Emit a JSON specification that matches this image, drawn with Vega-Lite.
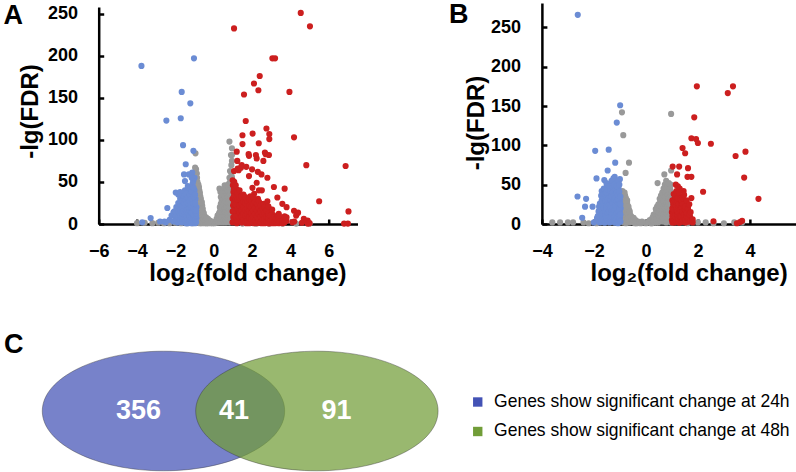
{
"$schema": "https://vega.github.io/schema/vega-lite/v6.json",
"background": "white",
"padding": {"left": 2.7, "top": 1, "right": 0, "bottom": 0},
"config": {
  "view": {"stroke": null},
  "font": "Liberation Sans",
  "axis": {"domainColor": "#000", "domainWidth": 2.5, "tickColor": "#000", "tickWidth": 2.5, "tickSize": -5, "labelFont": "Liberation Sans", "labelFontSize": 18, "labelFontWeight": "bold", "labelColor": "#000", "titleFont": "Liberation Sans", "titleFontSize": 24, "titleFontWeight": "bold", "titleColor": "#000", "grid": false, "labelFlush": false, "labelOverlap": false}
},
"datasets": {
"a": [
{"x":-4.0,"y":1,"g":"n"},{"x":-3.6,"y":1.5,"g":"n"},{"x":-3.2,"y":1,"g":"n"},{"x":-2.9,"y":1.5,"g":"n"},{"x":-2.6,"y":1,"g":"n"},{"x":-2.3,"y":1,"g":"n"},{"x":-2.0,"y":1.5,"g":"n"},{"x":-1.7,"y":1,"g":"n"},{"x":-1.4,"y":1,"g":"n"},{"x":-1.1,"y":1,"g":"n"},{"x":1.5,"y":0.5,"g":"n"},{"x":2.2,"y":0.5,"g":"n"},{"x":2.9,"y":0.5,"g":"n"},{"x":3.6,"y":0.5,"g":"n"},{"x":4.3,"y":0.5,"g":"n"},{"x":5.0,"y":0.5,"g":"n"},
{"x":-0.95,"y":5,"g":"n"},{"x":-0.95,"y":25,"g":"n"},{"x":-0.95,"y":45,"g":"n"},{"x":-0.9,"y":12,"g":"n"},{"x":-0.9,"y":35,"g":"n"},{"x":-0.9,"y":55,"g":"n"},{"x":-0.92,"y":65,"g":"n"},{"x":-0.85,"y":3,"g":"n"},{"x":-0.85,"y":18,"g":"n"},{"x":-0.85,"y":28,"g":"n"},{"x":-0.85,"y":42,"g":"n"},{"x":-0.85,"y":50,"g":"n"},{"x":-0.8,"y":8,"g":"n"},{"x":-0.8,"y":22,"g":"n"},{"x":-0.8,"y":35,"g":"n"},{"x":-0.8,"y":47,"g":"n"},{"x":-0.75,"y":2,"g":"n"},{"x":-0.75,"y":14,"g":"n"},{"x":-0.75,"y":30,"g":"n"},{"x":-0.75,"y":40,"g":"n"},{"x":-0.7,"y":6,"g":"n"},{"x":-0.7,"y":20,"g":"n"},{"x":-0.7,"y":33,"g":"n"},{"x":-0.65,"y":10,"g":"n"},{"x":-0.65,"y":25,"g":"n"},{"x":-0.6,"y":3,"g":"n"},{"x":-0.6,"y":16,"g":"n"},{"x":-0.6,"y":22,"g":"n"},{"x":-0.55,"y":8,"g":"n"},{"x":-0.55,"y":14,"g":"n"},{"x":-0.5,"y":2,"g":"n"},{"x":-0.5,"y":10,"g":"n"},{"x":-0.45,"y":5,"g":"n"},{"x":-0.4,"y":8,"g":"n"},{"x":-0.35,"y":3,"g":"n"},{"x":-0.3,"y":6,"g":"n"},{"x":-0.25,"y":2,"g":"n"},{"x":-0.2,"y":4,"g":"n"},{"x":-0.15,"y":1,"g":"n"},{"x":-0.1,"y":3,"g":"n"},{"x":-0.05,"y":1,"g":"n"},{"x":0,"y":2,"g":"n"},{"x":-0.95,"y":84,"g":"n"},{"x":-0.97,"y":67,"g":"n"},{"x":-0.88,"y":60,"g":"n"},
{"x":-0.97,"y":10,"g":"n"},{"x":-0.97,"y":20,"g":"n"},{"x":-0.97,"y":30,"g":"n"},{"x":-0.97,"y":38,"g":"n"},{"x":-0.97,"y":50,"g":"n"},{"x":-0.97,"y":58,"g":"n"},{"x":-0.92,"y":2,"g":"n"},{"x":-0.92,"y":8,"g":"n"},{"x":-0.92,"y":17,"g":"n"},{"x":-0.92,"y":23,"g":"n"},{"x":-0.92,"y":29,"g":"n"},{"x":-0.92,"y":40,"g":"n"},{"x":-0.92,"y":47,"g":"n"},{"x":-0.87,"y":6,"g":"n"},{"x":-0.87,"y":11,"g":"n"},{"x":-0.87,"y":15,"g":"n"},{"x":-0.87,"y":24,"g":"n"},{"x":-0.87,"y":33,"g":"n"},{"x":-0.87,"y":38,"g":"n"},{"x":-0.87,"y":45,"g":"n"},{"x":-0.87,"y":55,"g":"n"},{"x":-0.82,"y":2,"g":"n"},{"x":-0.82,"y":5,"g":"n"},{"x":-0.82,"y":12,"g":"n"},{"x":-0.82,"y":18,"g":"n"},{"x":-0.82,"y":26,"g":"n"},{"x":-0.82,"y":31,"g":"n"},{"x":-0.82,"y":41,"g":"n"},{"x":-0.77,"y":6,"g":"n"},{"x":-0.77,"y":9,"g":"n"},{"x":-0.77,"y":19,"g":"n"},{"x":-0.77,"y":25,"g":"n"},{"x":-0.77,"y":35,"g":"n"},{"x":-0.77,"y":44,"g":"n"},{"x":-0.72,"y":1,"g":"n"},{"x":-0.72,"y":4,"g":"n"},{"x":-0.72,"y":12,"g":"n"},{"x":-0.72,"y":16,"g":"n"},{"x":-0.72,"y":27,"g":"n"},{"x":-0.72,"y":37,"g":"n"},{"x":-0.67,"y":3,"g":"n"},{"x":-0.67,"y":7,"g":"n"},{"x":-0.67,"y":14,"g":"n"},{"x":-0.67,"y":19,"g":"n"},{"x":-0.67,"y":22,"g":"n"},{"x":-0.67,"y":30,"g":"n"},{"x":-0.62,"y":1,"g":"n"},{"x":-0.62,"y":6,"g":"n"},{"x":-0.62,"y":9,"g":"n"},{"x":-0.62,"y":13,"g":"n"},{"x":-0.62,"y":19,"g":"n"},{"x":-0.62,"y":26,"g":"n"},{"x":-0.57,"y":2,"g":"n"},{"x":-0.57,"y":5,"g":"n"},{"x":-0.57,"y":11,"g":"n"},{"x":-0.57,"y":18,"g":"n"},{"x":-0.52,"y":4,"g":"n"},{"x":-0.52,"y":6,"g":"n"},{"x":-0.52,"y":13,"g":"n"},{"x":-0.47,"y":1,"g":"n"},{"x":-0.47,"y":3,"g":"n"},{"x":-0.47,"y":8,"g":"n"},{"x":-0.42,"y":2,"g":"n"},{"x":-0.42,"y":5,"g":"n"},{"x":-0.37,"y":1,"g":"n"},{"x":-0.37,"y":6,"g":"n"},{"x":-0.3,"y":1,"g":"n"},
{"x":0.05,"y":1,"g":"n"},{"x":0.1,"y":3,"g":"n"},{"x":0.15,"y":6,"g":"n"},{"x":0.2,"y":2,"g":"n"},{"x":0.2,"y":10,"g":"n"},{"x":0.25,"y":5,"g":"n"},{"x":0.3,"y":14,"g":"n"},{"x":0.3,"y":3,"g":"n"},{"x":0.35,"y":8,"g":"n"},{"x":0.35,"y":18,"g":"n"},{"x":0.4,"y":12,"g":"n"},{"x":0.4,"y":24,"g":"n"},{"x":0.45,"y":4,"g":"n"},{"x":0.45,"y":30,"g":"n"},{"x":0.5,"y":16,"g":"n"},{"x":0.5,"y":36,"g":"n"},{"x":0.55,"y":8,"g":"n"},{"x":0.55,"y":26,"g":"n"},{"x":0.55,"y":40,"g":"n"},{"x":0.6,"y":20,"g":"n"},{"x":0.6,"y":44,"g":"n"},{"x":0.65,"y":12,"g":"n"},{"x":0.65,"y":32,"g":"n"},{"x":0.7,"y":4,"g":"n"},{"x":0.7,"y":24,"g":"n"},{"x":0.7,"y":46,"g":"n"},{"x":0.75,"y":16,"g":"n"},{"x":0.75,"y":38,"g":"n"},{"x":0.8,"y":8,"g":"n"},{"x":0.8,"y":28,"g":"n"},{"x":0.8,"y":48,"g":"n"},{"x":0.85,"y":20,"g":"n"},{"x":0.85,"y":42,"g":"n"},{"x":0.85,"y":63,"g":"n"},{"x":0.9,"y":10,"g":"n"},{"x":0.9,"y":34,"g":"n"},{"x":0.9,"y":82,"g":"n"},{"x":0.82,"y":98,"g":"n"},{"x":0.95,"y":82,"g":"n"},{"x":0.95,"y":56,"g":"n"},{"x":0.3,"y":42,"g":"n"},{"x":0.35,"y":38,"g":"n"},
{"x":0.15,"y":2,"g":"n"},{"x":0.22,"y":4,"g":"n"},{"x":0.22,"y":7,"g":"n"},{"x":0.27,"y":2,"g":"n"},{"x":0.27,"y":9,"g":"n"},{"x":0.27,"y":12,"g":"n"},{"x":0.32,"y":6,"g":"n"},{"x":0.32,"y":10,"g":"n"},{"x":0.32,"y":20,"g":"n"},{"x":0.37,"y":2,"g":"n"},{"x":0.37,"y":12,"g":"n"},{"x":0.37,"y":15,"g":"n"},{"x":0.37,"y":24,"g":"n"},{"x":0.37,"y":32,"g":"n"},{"x":0.42,"y":6,"g":"n"},{"x":0.42,"y":9,"g":"n"},{"x":0.42,"y":18,"g":"n"},{"x":0.42,"y":28,"g":"n"},{"x":0.47,"y":2,"g":"n"},{"x":0.47,"y":13,"g":"n"},{"x":0.47,"y":21,"g":"n"},{"x":0.47,"y":25,"g":"n"},{"x":0.47,"y":35,"g":"n"},{"x":0.52,"y":5,"g":"n"},{"x":0.52,"y":10,"g":"n"},{"x":0.52,"y":22,"g":"n"},{"x":0.52,"y":29,"g":"n"},{"x":0.52,"y":40,"g":"n"},{"x":0.57,"y":2,"g":"n"},{"x":0.57,"y":13,"g":"n"},{"x":0.57,"y":18,"g":"n"},{"x":0.57,"y":33,"g":"n"},{"x":0.57,"y":46,"g":"n"},{"x":0.62,"y":5,"g":"n"},{"x":0.62,"y":10,"g":"n"},{"x":0.62,"y":15,"g":"n"},{"x":0.62,"y":27,"g":"n"},{"x":0.62,"y":38,"g":"n"},{"x":0.67,"y":2,"g":"n"},{"x":0.67,"y":8,"g":"n"},{"x":0.67,"y":20,"g":"n"},{"x":0.67,"y":36,"g":"n"},{"x":0.67,"y":42,"g":"n"},{"x":0.72,"y":10,"g":"n"},{"x":0.72,"y":14,"g":"n"},{"x":0.72,"y":30,"g":"n"},{"x":0.72,"y":35,"g":"n"},{"x":0.72,"y":40,"g":"n"},{"x":0.77,"y":3,"g":"n"},{"x":0.77,"y":6,"g":"n"},{"x":0.77,"y":21,"g":"n"},{"x":0.77,"y":25,"g":"n"},{"x":0.77,"y":32,"g":"n"},{"x":0.77,"y":45,"g":"n"},{"x":0.82,"y":2,"g":"n"},{"x":0.82,"y":12,"g":"n"},{"x":0.82,"y":17,"g":"n"},{"x":0.82,"y":35,"g":"n"},{"x":0.82,"y":40,"g":"n"},{"x":0.82,"y":55,"g":"n"},{"x":0.87,"y":5,"g":"n"},{"x":0.87,"y":14,"g":"n"},{"x":0.87,"y":26,"g":"n"},{"x":0.87,"y":30,"g":"n"},{"x":0.87,"y":48,"g":"n"},{"x":0.87,"y":52,"g":"n"},{"x":0.92,"y":60,"g":"n"},{"x":0.92,"y":70,"g":"n"},{"x":0.95,"y":75,"g":"n"},{"x":0.95,"y":90,"g":"n"},
{"x":-3.77,"y":188,"g":"d"},{"x":-1.03,"y":197,"g":"d"},{"x":-1.67,"y":157,"g":"d"},{"x":-1.22,"y":143.5,"g":"d"},{"x":-2.47,"y":123,"g":"d"},{"x":-1.72,"y":125.7,"g":"d"},{"x":-1.6,"y":93.7,"g":"d"},{"x":-1.06,"y":87,"g":"d"},{"x":-1.46,"y":71,"g":"d"},{"x":-1.55,"y":59,"g":"d"},{"x":-1.3,"y":59,"g":"d"},{"x":-1.12,"y":61,"g":"d"},{"x":-1.5,"y":51,"g":"d"},{"x":-1.07,"y":51,"g":"d"},{"x":-1.98,"y":37.5,"g":"d"},{"x":-1.63,"y":32,"g":"d"},{"x":-2.42,"y":19,"g":"d"},{"x":-2.1,"y":14,"g":"d"},{"x":-3.29,"y":7,"g":"d"},{"x":-3.73,"y":2,"g":"d"},{"x":-2.8,"y":3,"g":"d"},{"x":-2.57,"y":3,"g":"d"},
{"x":-2.3,"y":5,"g":"d"},{"x":-2.2,"y":10,"g":"d"},{"x":-2.1,"y":3,"g":"d"},{"x":-2.05,"y":15,"g":"d"},{"x":-2.0,"y":8,"g":"d"},{"x":-1.95,"y":20,"g":"d"},{"x":-1.9,"y":2,"g":"d"},{"x":-1.9,"y":12,"g":"d"},{"x":-1.85,"y":25,"g":"d"},{"x":-1.8,"y":6,"g":"d"},{"x":-1.8,"y":18,"g":"d"},{"x":-1.75,"y":30,"g":"d"},{"x":-1.7,"y":3,"g":"d"},{"x":-1.7,"y":12,"g":"d"},{"x":-1.7,"y":22,"g":"d"},{"x":-1.65,"y":35,"g":"d"},{"x":-1.6,"y":8,"g":"d"},{"x":-1.6,"y":16,"g":"d"},{"x":-1.6,"y":27,"g":"d"},{"x":-1.55,"y":4,"g":"d"},{"x":-1.55,"y":20,"g":"d"},{"x":-1.5,"y":12,"g":"d"},{"x":-1.5,"y":30,"g":"d"},{"x":-1.5,"y":40,"g":"d"},{"x":-1.45,"y":6,"g":"d"},{"x":-1.45,"y":24,"g":"d"},{"x":-1.4,"y":2,"g":"d"},{"x":-1.4,"y":15,"g":"d"},{"x":-1.4,"y":33,"g":"d"},{"x":-1.35,"y":9,"g":"d"},{"x":-1.35,"y":20,"g":"d"},{"x":-1.35,"y":45,"g":"d"},{"x":-1.3,"y":4,"g":"d"},{"x":-1.3,"y":28,"g":"d"},{"x":-1.3,"y":38,"g":"d"},{"x":-1.25,"y":12,"g":"d"},{"x":-1.25,"y":22,"g":"d"},{"x":-1.2,"y":7,"g":"d"},{"x":-1.2,"y":17,"g":"d"},{"x":-1.2,"y":32,"g":"d"},{"x":-1.2,"y":42,"g":"d"},{"x":-1.15,"y":3,"g":"d"},{"x":-1.15,"y":25,"g":"d"},{"x":-1.1,"y":11,"g":"d"},{"x":-1.1,"y":20,"g":"d"},{"x":-1.1,"y":36,"g":"d"},{"x":-1.1,"y":48,"g":"d"},{"x":-1.05,"y":5,"g":"d"},{"x":-1.05,"y":15,"g":"d"},{"x":-1.05,"y":28,"g":"d"},{"x":-1.0,"y":9,"g":"d"},{"x":-1.0,"y":22,"g":"d"},{"x":-1.0,"y":40,"g":"d"},{"x":-0.95,"y":3,"g":"d"},{"x":-0.95,"y":14,"g":"d"},{"x":-0.95,"y":30,"g":"d"},{"x":-0.9,"y":7,"g":"d"},{"x":-0.9,"y":20,"g":"d"},{"x":-2.5,"y":2,"g":"d"},{"x":-1.85,"y":35,"g":"d"},{"x":-1.75,"y":38,"g":"d"},{"x":-1.0,"y":55,"g":"d"},{"x":-1.15,"y":55,"g":"d"},
{"x":-1.95,"y":4,"g":"d"},{"x":-1.95,"y":10,"g":"d"},{"x":-1.85,"y":2,"g":"d"},{"x":-1.85,"y":8,"g":"d"},{"x":-1.85,"y":15,"g":"d"},{"x":-1.75,"y":5,"g":"d"},{"x":-1.75,"y":10,"g":"d"},{"x":-1.75,"y":17,"g":"d"},{"x":-1.75,"y":24,"g":"d"},{"x":-1.65,"y":2,"g":"d"},{"x":-1.65,"y":7,"g":"d"},{"x":-1.65,"y":13,"g":"d"},{"x":-1.65,"y":20,"g":"d"},{"x":-1.65,"y":27,"g":"d"},{"x":-1.55,"y":6,"g":"d"},{"x":-1.55,"y":11,"g":"d"},{"x":-1.55,"y":15,"g":"d"},{"x":-1.55,"y":25,"g":"d"},{"x":-1.55,"y":33,"g":"d"},{"x":-1.45,"y":1,"g":"d"},{"x":-1.45,"y":4,"g":"d"},{"x":-1.45,"y":10,"g":"d"},{"x":-1.45,"y":16,"g":"d"},{"x":-1.45,"y":28,"g":"d"},{"x":-1.45,"y":36,"g":"d"},{"x":-1.35,"y":1,"g":"d"},{"x":-1.35,"y":5,"g":"d"},{"x":-1.35,"y":13,"g":"d"},{"x":-1.35,"y":17,"g":"d"},{"x":-1.35,"y":25,"g":"d"},{"x":-1.35,"y":31,"g":"d"},{"x":-1.25,"y":2,"g":"d"},{"x":-1.25,"y":6,"g":"d"},{"x":-1.25,"y":9,"g":"d"},{"x":-1.25,"y":16,"g":"d"},{"x":-1.25,"y":19,"g":"d"},{"x":-1.25,"y":27,"g":"d"},{"x":-1.25,"y":35,"g":"d"},{"x":-1.15,"y":1,"g":"d"},{"x":-1.15,"y":8,"g":"d"},{"x":-1.15,"y":13,"g":"d"},{"x":-1.15,"y":19,"g":"d"},{"x":-1.15,"y":22,"g":"d"},{"x":-1.15,"y":30,"g":"d"},{"x":-1.15,"y":38,"g":"d"},{"x":-1.05,"y":2,"g":"d"},{"x":-1.05,"y":8,"g":"d"},{"x":-1.05,"y":11,"g":"d"},{"x":-1.05,"y":19,"g":"d"},{"x":-1.05,"y":24,"g":"d"},{"x":-1.05,"y":33,"g":"d"},{"x":-1.05,"y":43,"g":"d"},{"x":-0.97,"y":1,"g":"d"},{"x":-0.97,"y":6,"g":"d"},{"x":-0.97,"y":11,"g":"d"},{"x":-0.97,"y":17,"g":"d"},{"x":-0.97,"y":25,"g":"d"},{"x":-0.97,"y":35,"g":"d"},{"x":-0.92,"y":2,"g":"d"},{"x":-0.92,"y":10,"g":"d"},{"x":-0.92,"y":13,"g":"d"},{"x":-0.92,"y":16,"g":"d"},
{"x":0.98,"y":2,"g":"u"},{"x":1.02,"y":8,"g":"u"},{"x":0.99,"y":15,"g":"u"},{"x":1.01,"y":22,"g":"u"},{"x":0.98,"y":30,"g":"u"},{"x":1.03,"y":38,"g":"u"},{"x":1.0,"y":46,"g":"u"},{"x":0.99,"y":52,"g":"u"},
{"x":1.08,"y":4,"g":"u"},{"x":1.12,"y":12,"g":"u"},{"x":1.1,"y":19,"g":"u"},{"x":1.09,"y":27,"g":"u"},{"x":1.11,"y":35,"g":"u"},{"x":1.1,"y":43,"g":"u"},{"x":1.07,"y":50,"g":"u"},
{"x":1.2,"y":1,"g":"u"},{"x":1.22,"y":7,"g":"u"},{"x":1.19,"y":14,"g":"u"},{"x":1.21,"y":24,"g":"u"},{"x":1.18,"y":33,"g":"u"},{"x":1.2,"y":41,"g":"u"},
{"x":1.3,"y":3,"g":"u"},{"x":1.32,"y":10,"g":"u"},{"x":1.29,"y":18,"g":"u"},{"x":1.31,"y":26,"g":"u"},{"x":1.3,"y":36,"g":"u"},
{"x":1.4,"y":5,"g":"u"},{"x":1.42,"y":12,"g":"u"},{"x":1.39,"y":20,"g":"u"},{"x":1.4,"y":28,"g":"u"},
{"x":1.5,"y":2,"g":"u"},{"x":1.52,"y":9,"g":"u"},{"x":1.49,"y":16,"g":"u"},{"x":1.5,"y":24,"g":"u"},{"x":1.51,"y":31,"g":"u"},
{"x":1.6,"y":6,"g":"u"},{"x":1.62,"y":13,"g":"u"},{"x":1.59,"y":21,"g":"u"},{"x":1.6,"y":28,"g":"u"},
{"x":1.7,"y":1,"g":"u"},{"x":1.72,"y":8,"g":"u"},{"x":1.69,"y":15,"g":"u"},{"x":1.7,"y":23,"g":"u"},{"x":1.71,"y":30,"g":"u"},
{"x":1.8,"y":4,"g":"u"},{"x":1.82,"y":11,"g":"u"},{"x":1.79,"y":19,"g":"u"},{"x":1.8,"y":27,"g":"u"},
{"x":1.9,"y":2,"g":"u"},{"x":1.92,"y":9,"g":"u"},{"x":1.89,"y":16,"g":"u"},{"x":1.9,"y":24,"g":"u"},{"x":1.91,"y":33,"g":"u"},
{"x":2.0,"y":5,"g":"u"},{"x":2.02,"y":12,"g":"u"},{"x":1.99,"y":20,"g":"u"},{"x":2.0,"y":28,"g":"u"},
{"x":2.1,"y":1,"g":"u"},{"x":2.12,"y":8,"g":"u"},{"x":2.09,"y":15,"g":"u"},{"x":2.1,"y":22,"g":"u"},{"x":2.11,"y":36,"g":"u"},
{"x":2.2,"y":4,"g":"u"},{"x":2.22,"y":11,"g":"u"},{"x":2.19,"y":18,"g":"u"},{"x":2.2,"y":26,"g":"u"},
{"x":2.3,"y":2,"g":"u"},{"x":2.32,"y":7,"g":"u"},{"x":2.29,"y":14,"g":"u"},{"x":2.3,"y":22,"g":"u"},{"x":2.31,"y":30,"g":"u"},
{"x":2.4,"y":5,"g":"u"},{"x":2.42,"y":10,"g":"u"},{"x":2.39,"y":17,"g":"u"},{"x":2.4,"y":25,"g":"u"},
{"x":2.5,"y":1,"g":"u"},{"x":2.52,"y":7,"g":"u"},{"x":2.49,"y":13,"g":"u"},{"x":2.5,"y":20,"g":"u"},{"x":2.51,"y":40,"g":"u"},
{"x":2.6,"y":3,"g":"u"},{"x":2.62,"y":9,"g":"u"},{"x":2.59,"y":16,"g":"u"},{"x":2.6,"y":24,"g":"u"},
{"x":2.7,"y":2,"g":"u"},{"x":2.72,"y":6,"g":"u"},{"x":2.69,"y":12,"g":"u"},{"x":2.7,"y":19,"g":"u"},
{"x":2.8,"y":4,"g":"u"},{"x":2.82,"y":9,"g":"u"},{"x":2.79,"y":15,"g":"u"},{"x":2.8,"y":27,"g":"u"},
{"x":2.9,"y":1,"g":"u"},{"x":2.92,"y":6,"g":"u"},{"x":2.89,"y":12,"g":"u"},{"x":2.9,"y":18,"g":"u"},
{"x":3.0,"y":3,"g":"u"},{"x":3.02,"y":8,"g":"u"},{"x":2.99,"y":14,"g":"u"},
{"x":3.1,"y":2,"g":"u"},{"x":3.12,"y":6,"g":"u"},{"x":3.09,"y":11,"g":"u"},
{"x":3.2,"y":1,"g":"u"},{"x":3.22,"y":5,"g":"u"},{"x":3.19,"y":9,"g":"u"},
{"x":3.3,"y":3,"g":"u"},{"x":3.32,"y":7,"g":"u"},{"x":3.4,"y":1,"g":"u"},{"x":3.42,"y":4,"g":"u"},{"x":3.39,"y":12,"g":"u"},{"x":3.5,"y":2,"g":"u"},{"x":3.52,"y":6,"g":"u"},
{"x":1.05,"y":5,"g":"u"},{"x":1.05,"y":16,"g":"u"},{"x":1.05,"y":25,"g":"u"},{"x":1.05,"y":33,"g":"u"},{"x":1.05,"y":41,"g":"u"},{"x":1.05,"y":48,"g":"u"},{"x":1.15,"y":9,"g":"u"},{"x":1.15,"y":23,"g":"u"},{"x":1.15,"y":30,"g":"u"},{"x":1.15,"y":38,"g":"u"},{"x":1.15,"y":46,"g":"u"},{"x":1.25,"y":4,"g":"u"},{"x":1.25,"y":18,"g":"u"},{"x":1.25,"y":29,"g":"u"},{"x":1.25,"y":37,"g":"u"},{"x":1.35,"y":7,"g":"u"},{"x":1.35,"y":14,"g":"u"},{"x":1.35,"y":22,"g":"u"},{"x":1.35,"y":31,"g":"u"},{"x":1.35,"y":40,"g":"u"},{"x":1.45,"y":2,"g":"u"},{"x":1.45,"y":9,"g":"u"},{"x":1.45,"y":16,"g":"u"},{"x":1.45,"y":24,"g":"u"},{"x":1.45,"y":33,"g":"u"},{"x":1.55,"y":5,"g":"u"},{"x":1.55,"y":12,"g":"u"},{"x":1.55,"y":20,"g":"u"},{"x":1.55,"y":27,"g":"u"},{"x":1.55,"y":35,"g":"u"},{"x":1.65,"y":3,"g":"u"},{"x":1.65,"y":10,"g":"u"},{"x":1.65,"y":17,"g":"u"},{"x":1.65,"y":25,"g":"u"},{"x":1.65,"y":32,"g":"u"},{"x":1.75,"y":4,"g":"u"},{"x":1.75,"y":12,"g":"u"},{"x":1.75,"y":19,"g":"u"},{"x":1.75,"y":27,"g":"u"},{"x":1.85,"y":1,"g":"u"},{"x":1.85,"y":8,"g":"u"},{"x":1.85,"y":15,"g":"u"},{"x":1.85,"y":22,"g":"u"},{"x":1.85,"y":30,"g":"u"},{"x":1.95,"y":6,"g":"u"},{"x":1.95,"y":13,"g":"u"},{"x":1.95,"y":20,"g":"u"},{"x":1.95,"y":28,"g":"u"},{"x":2.05,"y":2,"g":"u"},{"x":2.05,"y":9,"g":"u"},{"x":2.05,"y":16,"g":"u"},{"x":2.05,"y":24,"g":"u"},{"x":2.05,"y":32,"g":"u"},{"x":2.15,"y":4,"g":"u"},{"x":2.15,"y":12,"g":"u"},{"x":2.15,"y":19,"g":"u"},{"x":2.15,"y":26,"g":"u"},{"x":2.25,"y":1,"g":"u"},{"x":2.25,"y":9,"g":"u"},{"x":2.25,"y":16,"g":"u"},{"x":2.25,"y":24,"g":"u"},{"x":2.35,"y":4,"g":"u"},{"x":2.35,"y":12,"g":"u"},{"x":2.35,"y":19,"g":"u"},{"x":2.35,"y":27,"g":"u"},{"x":2.45,"y":2,"g":"u"},{"x":2.45,"y":9,"g":"u"},{"x":2.45,"y":15,"g":"u"},{"x":2.45,"y":22,"g":"u"},{"x":2.55,"y":5,"g":"u"},{"x":2.55,"y":11,"g":"u"},{"x":2.55,"y":18,"g":"u"},{"x":2.65,"y":1,"g":"u"},{"x":2.65,"y":6,"g":"u"},{"x":2.65,"y":13,"g":"u"},{"x":2.65,"y":20,"g":"u"},{"x":2.75,"y":3,"g":"u"},{"x":2.75,"y":9,"g":"u"},{"x":2.75,"y":16,"g":"u"},{"x":2.85,"y":1,"g":"u"},{"x":2.85,"y":7,"g":"u"},{"x":2.85,"y":12,"g":"u"},{"x":2.85,"y":21,"g":"u"},{"x":2.95,"y":4,"g":"u"},{"x":2.95,"y":10,"g":"u"},{"x":3.05,"y":1,"g":"u"},{"x":3.05,"y":5,"g":"u"},{"x":3.05,"y":17,"g":"u"},{"x":3.15,"y":3,"g":"u"},{"x":3.15,"y":8,"g":"u"},{"x":3.25,"y":2,"g":"u"},{"x":3.25,"y":6,"g":"u"},{"x":3.35,"y":5,"g":"u"},{"x":3.35,"y":9,"g":"u"},{"x":3.45,"y":3,"g":"u"},{"x":3.6,"y":1,"g":"u"},{"x":3.6,"y":4,"g":"u"},
{"x":1.5,"y":95,"g":"u"},{"x":1.84,"y":81,"g":"u"},{"x":2.24,"y":78,"g":"u"},{"x":2.59,"y":75,"g":"u"},{"x":2.71,"y":83,"g":"u"},{"x":1.23,"y":75,"g":"u"},{"x":1.46,"y":70,"g":"u"},{"x":1.06,"y":63,"g":"u"},{"x":1.3,"y":64,"g":"u"},{"x":1.84,"y":57,"g":"u"},{"x":2.49,"y":59,"g":"u"},{"x":2.8,"y":55,"g":"u"},{"x":2.24,"y":49,"g":"u"},{"x":2.02,"y":43,"g":"u"},{"x":2.36,"y":40,"g":"u"},{"x":3.14,"y":44,"g":"u"},{"x":3.7,"y":42,"g":"u"},{"x":3.32,"y":31.5,"g":"u"},{"x":3.58,"y":24,"g":"u"},{"x":3.8,"y":20,"g":"u"},{"x":4.19,"y":15.8,"g":"u"},{"x":4.3,"y":10,"g":"u"},{"x":4.7,"y":6,"g":"u"},{"x":4.9,"y":4,"g":"u"},{"x":3.4,"y":10,"g":"u"},{"x":3.7,"y":9,"g":"u"},{"x":3.8,"y":4,"g":"u"},{"x":1.2,"y":86,"g":"u"},{"x":2.2,"y":82,"g":"u"},{"x":2.67,"y":85,"g":"u"},{"x":2.88,"y":82,"g":"u"},{"x":1.82,"y":83,"g":"u"},{"x":1.25,"y":66,"g":"u"},{"x":1.42,"y":67,"g":"u"},{"x":1.7,"y":68,"g":"u"},{"x":2.0,"y":65,"g":"u"},{"x":2.3,"y":62,"g":"u"},
{"x":1.06,"y":232.5,"g":"u"},{"x":4.54,"y":251,"g":"u"},{"x":5.02,"y":235,"g":"u"},{"x":3.06,"y":197,"g":"u"},{"x":3.2,"y":197,"g":"u"},{"x":2.4,"y":176,"g":"u"},{"x":2.1,"y":167,"g":"u"},{"x":2.33,"y":159,"g":"u"},{"x":1.58,"y":154,"g":"u"},{"x":3.95,"y":157,"g":"u"},{"x":1.67,"y":122.5,"g":"u"},{"x":4.19,"y":103,"g":"u"},{"x":2.75,"y":113.5,"g":"u"},{"x":2.9,"y":107,"g":"u"},{"x":2.9,"y":101,"g":"u"},{"x":1.5,"y":105.5,"g":"u"},{"x":2.03,"y":107.5,"g":"u"},{"x":2.35,"y":96,"g":"u"},{"x":4.83,"y":70,"g":"u"},{"x":6.88,"y":69,"g":"u"},{"x":5.5,"y":27,"g":"u"},{"x":7.03,"y":15,"g":"u"},{"x":4.4,"y":13.5,"g":"u"},{"x":3.8,"y":8,"g":"u"},{"x":4.2,"y":3,"g":"u"},{"x":4.85,"y":3,"g":"u"},{"x":4.9,"y":0.5,"g":"u"},{"x":6.8,"y":0.5,"g":"u"},{"x":7.0,"y":0.5,"g":"u"},{"x":3.7,"y":2,"g":"u"},{"x":4.1,"y":2,"g":"u"},{"x":5.0,"y":1,"g":"u"},{"x":4.6,"y":1.5,"g":"u"}
],
"b": [
{"x":-3.6,"y":2,"g":"n"},{"x":-3.3,"y":2,"g":"n"},{"x":-3.0,"y":2,"g":"n"},{"x":-2.8,"y":2,"g":"n"},{"x":-2.4,"y":2,"g":"n"},{"x":-2.2,"y":1,"g":"n"},{"x":-1.9,"y":1,"g":"n"},{"x":1.6,"y":1,"g":"n"},{"x":2.0,"y":2,"g":"n"},{"x":2.3,"y":2,"g":"n"},{"x":2.6,"y":1,"g":"n"},{"x":3.0,"y":1,"g":"n"},{"x":3.4,"y":2,"g":"n"},{"x":3.7,"y":2,"g":"n"},
{"x":-1.0,"y":40,"g":"n"},{"x":-0.95,"y":5,"g":"n"},{"x":-0.95,"y":25,"g":"n"},{"x":-0.9,"y":12,"g":"n"},{"x":-0.9,"y":33,"g":"n"},{"x":-0.9,"y":42,"g":"n"},{"x":-0.85,"y":2,"g":"n"},{"x":-0.85,"y":20,"g":"n"},{"x":-0.85,"y":30,"g":"n"},{"x":-0.8,"y":8,"g":"n"},{"x":-0.8,"y":26,"g":"n"},{"x":-0.8,"y":36,"g":"n"},{"x":-0.75,"y":4,"g":"n"},{"x":-0.75,"y":16,"g":"n"},{"x":-0.75,"y":28,"g":"n"},{"x":-0.7,"y":10,"g":"n"},{"x":-0.7,"y":22,"g":"n"},{"x":-0.65,"y":2,"g":"n"},{"x":-0.65,"y":14,"g":"n"},{"x":-0.65,"y":18,"g":"n"},{"x":-0.6,"y":6,"g":"n"},{"x":-0.6,"y":10,"g":"n"},{"x":-0.55,"y":3,"g":"n"},{"x":-0.5,"y":7,"g":"n"},{"x":-0.45,"y":2,"g":"n"},{"x":-0.4,"y":5,"g":"n"},{"x":-0.35,"y":1,"g":"n"},{"x":-0.3,"y":3,"g":"n"},{"x":-0.2,"y":1,"g":"n"},{"x":-0.1,"y":2,"g":"n"},{"x":0,"y":1,"g":"n"},
{"x":-0.97,"y":10,"g":"n"},{"x":-0.97,"y":30,"g":"n"},{"x":-0.97,"y":36,"g":"n"},{"x":-0.92,"y":4,"g":"n"},{"x":-0.92,"y":18,"g":"n"},{"x":-0.92,"y":26,"g":"n"},{"x":-0.92,"y":38,"g":"n"},{"x":-0.87,"y":8,"g":"n"},{"x":-0.87,"y":14,"g":"n"},{"x":-0.87,"y":25,"g":"n"},{"x":-0.87,"y":35,"g":"n"},{"x":-0.82,"y":4,"g":"n"},{"x":-0.82,"y":17,"g":"n"},{"x":-0.82,"y":22,"g":"n"},{"x":-0.82,"y":32,"g":"n"},{"x":-0.82,"y":40,"g":"n"},{"x":-0.77,"y":1,"g":"n"},{"x":-0.77,"y":12,"g":"n"},{"x":-0.77,"y":21,"g":"n"},{"x":-0.77,"y":33,"g":"n"},{"x":-0.72,"y":6,"g":"n"},{"x":-0.72,"y":14,"g":"n"},{"x":-0.72,"y":26,"g":"n"},{"x":-0.72,"y":30,"g":"n"},{"x":-0.67,"y":8,"g":"n"},{"x":-0.67,"y":22,"g":"n"},{"x":-0.62,"y":3,"g":"n"},{"x":-0.62,"y":13,"g":"n"},{"x":-0.62,"y":16,"g":"n"},{"x":-0.57,"y":7,"g":"n"},{"x":-0.57,"y":10,"g":"n"},{"x":-0.52,"y":3,"g":"n"},{"x":-0.52,"y":5,"g":"n"},{"x":-0.47,"y":4,"g":"n"},{"x":-0.47,"y":8,"g":"n"},{"x":-0.42,"y":1,"g":"n"},{"x":-0.25,"y":2,"g":"n"},{"x":-0.15,"y":3,"g":"n"},
{"x":-0.92,"y":142,"g":"n"},{"x":-0.87,"y":113,"g":"n"},{"x":-0.65,"y":78,"g":"n"},{"x":-0.78,"y":65,"g":"n"},
{"x":0.1,"y":2,"g":"n"},{"x":0.15,"y":5,"g":"n"},{"x":0.2,"y":1,"g":"n"},{"x":0.25,"y":8,"g":"n"},{"x":0.3,"y":3,"g":"n"},{"x":0.3,"y":12,"g":"n"},{"x":0.35,"y":6,"g":"n"},{"x":0.4,"y":16,"g":"n"},{"x":0.4,"y":2,"g":"n"},{"x":0.45,"y":10,"g":"n"},{"x":0.5,"y":20,"g":"n"},{"x":0.5,"y":5,"g":"n"},{"x":0.55,"y":14,"g":"n"},{"x":0.55,"y":28,"g":"n"},{"x":0.6,"y":8,"g":"n"},{"x":0.6,"y":22,"g":"n"},{"x":0.65,"y":33,"g":"n"},{"x":0.65,"y":3,"g":"n"},{"x":0.7,"y":16,"g":"n"},{"x":0.7,"y":40,"g":"n"},{"x":0.75,"y":10,"g":"n"},{"x":0.75,"y":28,"g":"n"},{"x":0.8,"y":4,"g":"n"},{"x":0.8,"y":36,"g":"n"},{"x":0.8,"y":45,"g":"n"},{"x":0.85,"y":18,"g":"n"},{"x":0.85,"y":30,"g":"n"},{"x":0.9,"y":8,"g":"n"},{"x":0.9,"y":42,"g":"n"},{"x":0.95,"y":24,"g":"n"},{"x":0.95,"y":50,"g":"n"},{"x":1.0,"y":12,"g":"n"},{"x":1.0,"y":34,"g":"n"},
{"x":0.18,"y":3,"g":"n"},{"x":0.23,"y":1,"g":"n"},{"x":0.23,"y":5,"g":"n"},{"x":0.28,"y":6,"g":"n"},{"x":0.28,"y":9,"g":"n"},{"x":0.33,"y":2,"g":"n"},{"x":0.33,"y":9,"g":"n"},{"x":0.38,"y":4,"g":"n"},{"x":0.38,"y":11,"g":"n"},{"x":0.38,"y":19,"g":"n"},{"x":0.43,"y":7,"g":"n"},{"x":0.43,"y":14,"g":"n"},{"x":0.43,"y":22,"g":"n"},{"x":0.48,"y":2,"g":"n"},{"x":0.48,"y":12,"g":"n"},{"x":0.48,"y":16,"g":"n"},{"x":0.48,"y":25,"g":"n"},{"x":0.53,"y":8,"g":"n"},{"x":0.53,"y":18,"g":"n"},{"x":0.53,"y":24,"g":"n"},{"x":0.53,"y":32,"g":"n"},{"x":0.58,"y":4,"g":"n"},{"x":0.58,"y":12,"g":"n"},{"x":0.58,"y":16,"g":"n"},{"x":0.58,"y":30,"g":"n"},{"x":0.58,"y":36,"g":"n"},{"x":0.63,"y":9,"g":"n"},{"x":0.63,"y":18,"g":"n"},{"x":0.63,"y":26,"g":"n"},{"x":0.63,"y":40,"g":"n"},{"x":0.68,"y":4,"g":"n"},{"x":0.68,"y":12,"g":"n"},{"x":0.68,"y":22,"g":"n"},{"x":0.68,"y":30,"g":"n"},{"x":0.68,"y":45,"g":"n"},{"x":0.73,"y":7,"g":"n"},{"x":0.73,"y":20,"g":"n"},{"x":0.73,"y":34,"g":"n"},{"x":0.73,"y":42,"g":"n"},{"x":0.73,"y":50,"g":"n"},{"x":0.78,"y":2,"g":"n"},{"x":0.78,"y":14,"g":"n"},{"x":0.78,"y":24,"g":"n"},{"x":0.78,"y":40,"g":"n"},{"x":0.78,"y":55,"g":"n"},{"x":0.83,"y":8,"g":"n"},{"x":0.83,"y":12,"g":"n"},{"x":0.83,"y":22,"g":"n"},{"x":0.83,"y":36,"g":"n"},{"x":0.83,"y":48,"g":"n"},{"x":0.88,"y":3,"g":"n"},{"x":0.88,"y":16,"g":"n"},{"x":0.88,"y":26,"g":"n"},{"x":0.88,"y":33,"g":"n"},{"x":0.88,"y":52,"g":"n"},{"x":0.93,"y":6,"g":"n"},{"x":0.93,"y":14,"g":"n"},{"x":0.93,"y":30,"g":"n"},{"x":0.93,"y":38,"g":"n"},{"x":0.93,"y":45,"g":"n"},{"x":0.98,"y":2,"g":"n"},{"x":0.98,"y":20,"g":"n"},{"x":0.98,"y":28,"g":"n"},{"x":0.98,"y":40,"g":"n"},
{"x":0.97,"y":140,"g":"n"},{"x":0.97,"y":68,"g":"n"},{"x":0.71,"y":63,"g":"n"},{"x":0.45,"y":52,"g":"n"},
{"x":-2.62,"y":266,"g":"d"},{"x":-0.99,"y":151,"g":"d"},{"x":-1.12,"y":129,"g":"d"},{"x":-1.95,"y":93,"g":"d"},{"x":-1.43,"y":94.5,"g":"d"},{"x":-1.18,"y":78,"g":"d"},{"x":-1.47,"y":68,"g":"d"},{"x":-1.9,"y":58,"g":"d"},{"x":-1.6,"y":56,"g":"d"},{"x":-1.7,"y":42,"g":"d"},{"x":-2.63,"y":35,"g":"d"},{"x":-2.3,"y":32,"g":"d"},{"x":-2.34,"y":22,"g":"d"},{"x":-2.05,"y":22,"g":"d"},{"x":-2.45,"y":8,"g":"d"},{"x":-1.88,"y":7.5,"g":"d"},{"x":-2.0,"y":2,"g":"d"},
{"x":-1.85,"y":10,"g":"d"},{"x":-1.8,"y":3,"g":"d"},{"x":-1.8,"y":22,"g":"d"},{"x":-1.75,"y":14,"g":"d"},{"x":-1.7,"y":6,"g":"d"},{"x":-1.7,"y":30,"g":"d"},{"x":-1.65,"y":18,"g":"d"},{"x":-1.6,"y":2,"g":"d"},{"x":-1.6,"y":10,"g":"d"},{"x":-1.6,"y":40,"g":"d"},{"x":-1.55,"y":24,"g":"d"},{"x":-1.5,"y":5,"g":"d"},{"x":-1.5,"y":15,"g":"d"},{"x":-1.5,"y":33,"g":"d"},{"x":-1.5,"y":48,"g":"d"},{"x":-1.45,"y":9,"g":"d"},{"x":-1.45,"y":20,"g":"d"},{"x":-1.4,"y":2,"g":"d"},{"x":-1.4,"y":28,"g":"d"},{"x":-1.4,"y":38,"g":"d"},{"x":-1.35,"y":12,"g":"d"},{"x":-1.35,"y":50,"g":"d"},{"x":-1.3,"y":5,"g":"d"},{"x":-1.3,"y":18,"g":"d"},{"x":-1.3,"y":25,"g":"d"},{"x":-1.3,"y":44,"g":"d"},{"x":-1.25,"y":8,"g":"d"},{"x":-1.25,"y":34,"g":"d"},{"x":-1.2,"y":2,"g":"d"},{"x":-1.2,"y":14,"g":"d"},{"x":-1.2,"y":22,"g":"d"},{"x":-1.2,"y":40,"g":"d"},{"x":-1.15,"y":6,"g":"d"},{"x":-1.15,"y":28,"g":"d"},{"x":-1.15,"y":52,"g":"d"},{"x":-1.1,"y":10,"g":"d"},{"x":-1.1,"y":18,"g":"d"},{"x":-1.1,"y":35,"g":"d"},{"x":-1.05,"y":3,"g":"d"},{"x":-1.05,"y":24,"g":"d"},{"x":-1.05,"y":45,"g":"d"},{"x":-1.0,"y":8,"g":"d"},{"x":-1.0,"y":15,"g":"d"},{"x":-1.0,"y":30,"g":"d"},{"x":-0.97,"y":20,"g":"d"},{"x":-1.25,"y":58,"g":"d"},{"x":-1.0,"y":57,"g":"d"},{"x":-1.2,"y":60,"g":"d"},
{"x":-1.82,"y":6,"g":"d"},{"x":-1.82,"y":16,"g":"d"},{"x":-1.77,"y":2,"g":"d"},{"x":-1.77,"y":9,"g":"d"},{"x":-1.77,"y":18,"g":"d"},{"x":-1.77,"y":26,"g":"d"},{"x":-1.72,"y":3,"g":"d"},{"x":-1.72,"y":11,"g":"d"},{"x":-1.72,"y":20,"g":"d"},{"x":-1.72,"y":36,"g":"d"},{"x":-1.67,"y":8,"g":"d"},{"x":-1.67,"y":13,"g":"d"},{"x":-1.67,"y":24,"g":"d"},{"x":-1.67,"y":29,"g":"d"},{"x":-1.62,"y":5,"g":"d"},{"x":-1.62,"y":20,"g":"d"},{"x":-1.62,"y":33,"g":"d"},{"x":-1.62,"y":45,"g":"d"},{"x":-1.57,"y":2,"g":"d"},{"x":-1.57,"y":12,"g":"d"},{"x":-1.57,"y":17,"g":"d"},{"x":-1.57,"y":29,"g":"d"},{"x":-1.57,"y":38,"g":"d"},{"x":-1.52,"y":8,"g":"d"},{"x":-1.52,"y":20,"g":"d"},{"x":-1.52,"y":24,"g":"d"},{"x":-1.52,"y":40,"g":"d"},{"x":-1.52,"y":52,"g":"d"},{"x":-1.47,"y":4,"g":"d"},{"x":-1.47,"y":14,"g":"d"},{"x":-1.47,"y":27,"g":"d"},{"x":-1.47,"y":31,"g":"d"},{"x":-1.47,"y":44,"g":"d"},{"x":-1.42,"y":6,"g":"d"},{"x":-1.42,"y":17,"g":"d"},{"x":-1.42,"y":24,"g":"d"},{"x":-1.42,"y":33,"g":"d"},{"x":-1.42,"y":48,"g":"d"},{"x":-1.37,"y":3,"g":"d"},{"x":-1.37,"y":9,"g":"d"},{"x":-1.37,"y":21,"g":"d"},{"x":-1.37,"y":31,"g":"d"},{"x":-1.37,"y":42,"g":"d"},{"x":-1.32,"y":10,"g":"d"},{"x":-1.32,"y":14,"g":"d"},{"x":-1.32,"y":22,"g":"d"},{"x":-1.32,"y":35,"g":"d"},{"x":-1.32,"y":55,"g":"d"},{"x":-1.27,"y":3,"g":"d"},{"x":-1.27,"y":13,"g":"d"},{"x":-1.27,"y":27,"g":"d"},{"x":-1.27,"y":40,"g":"d"},{"x":-1.27,"y":47,"g":"d"},{"x":-1.22,"y":5,"g":"d"},{"x":-1.22,"y":10,"g":"d"},{"x":-1.22,"y":18,"g":"d"},{"x":-1.22,"y":31,"g":"d"},{"x":-1.22,"y":36,"g":"d"},{"x":-1.22,"y":50,"g":"d"},{"x":-1.17,"y":2,"g":"d"},{"x":-1.17,"y":11,"g":"d"},{"x":-1.17,"y":20,"g":"d"},{"x":-1.17,"y":24,"g":"d"},{"x":-1.17,"y":34,"g":"d"},{"x":-1.17,"y":44,"g":"d"},{"x":-1.12,"y":6,"g":"d"},{"x":-1.12,"y":14,"g":"d"},{"x":-1.12,"y":29,"g":"d"},{"x":-1.12,"y":40,"g":"d"},{"x":-1.12,"y":48,"g":"d"},{"x":-1.07,"y":1,"g":"d"},{"x":-1.07,"y":9,"g":"d"},{"x":-1.07,"y":17,"g":"d"},{"x":-1.07,"y":30,"g":"d"},{"x":-1.07,"y":37,"g":"d"},{"x":-1.07,"y":55,"g":"d"},{"x":-1.02,"y":5,"g":"d"},{"x":-1.02,"y":11,"g":"d"},{"x":-1.02,"y":20,"g":"d"},{"x":-1.02,"y":26,"g":"d"},{"x":-1.02,"y":41,"g":"d"},{"x":-1.02,"y":50,"g":"d"},{"x":-0.98,"y":3,"g":"d"},{"x":-0.98,"y":12,"g":"d"},{"x":-0.98,"y":25,"g":"d"},{"x":-0.98,"y":35,"g":"d"},
{"x":1.0,"y":5,"g":"u"},{"x":1.0,"y":15,"g":"u"},{"x":1.05,"y":25,"g":"u"},{"x":1.05,"y":10,"g":"u"},{"x":1.1,"y":2,"g":"u"},{"x":1.1,"y":20,"g":"u"},{"x":1.1,"y":32,"g":"u"},{"x":1.15,"y":7,"g":"u"},{"x":1.15,"y":14,"g":"u"},{"x":1.2,"y":4,"g":"u"},{"x":1.2,"y":24,"g":"u"},{"x":1.2,"y":38,"g":"u"},{"x":1.25,"y":10,"g":"u"},{"x":1.25,"y":18,"g":"u"},{"x":1.3,"y":2,"g":"u"},{"x":1.3,"y":28,"g":"u"},{"x":1.35,"y":6,"g":"u"},{"x":1.35,"y":14,"g":"u"},{"x":1.35,"y":35,"g":"u"},{"x":1.4,"y":9,"g":"u"},{"x":1.4,"y":20,"g":"u"},{"x":1.45,"y":3,"g":"u"},{"x":1.45,"y":42,"g":"u"},{"x":1.5,"y":12,"g":"u"},{"x":1.5,"y":26,"g":"u"},{"x":1.55,"y":6,"g":"u"},{"x":1.6,"y":16,"g":"u"},{"x":1.65,"y":3,"g":"u"},{"x":1.7,"y":9,"g":"u"},{"x":1.3,"y":45,"g":"u"},
{"x":1.02,"y":2,"g":"u"},{"x":1.02,"y":10,"g":"u"},{"x":1.02,"y":20,"g":"u"},{"x":1.02,"y":30,"g":"u"},{"x":1.07,"y":4,"g":"u"},{"x":1.07,"y":15,"g":"u"},{"x":1.07,"y":18,"g":"u"},{"x":1.07,"y":28,"g":"u"},{"x":1.07,"y":38,"g":"u"},{"x":1.12,"y":6,"g":"u"},{"x":1.12,"y":10,"g":"u"},{"x":1.12,"y":25,"g":"u"},{"x":1.12,"y":30,"g":"u"},{"x":1.12,"y":36,"g":"u"},{"x":1.17,"y":3,"g":"u"},{"x":1.17,"y":18,"g":"u"},{"x":1.17,"y":22,"g":"u"},{"x":1.17,"y":28,"g":"u"},{"x":1.17,"y":42,"g":"u"},{"x":1.22,"y":8,"g":"u"},{"x":1.22,"y":12,"g":"u"},{"x":1.22,"y":16,"g":"u"},{"x":1.22,"y":30,"g":"u"},{"x":1.22,"y":33,"g":"u"},{"x":1.27,"y":2,"g":"u"},{"x":1.27,"y":6,"g":"u"},{"x":1.27,"y":14,"g":"u"},{"x":1.27,"y":22,"g":"u"},{"x":1.27,"y":25,"g":"u"},{"x":1.27,"y":40,"g":"u"},{"x":1.32,"y":8,"g":"u"},{"x":1.32,"y":10,"g":"u"},{"x":1.32,"y":18,"g":"u"},{"x":1.32,"y":32,"g":"u"},{"x":1.37,"y":3,"g":"u"},{"x":1.37,"y":10,"g":"u"},{"x":1.37,"y":21,"g":"u"},{"x":1.37,"y":26,"g":"u"},{"x":1.37,"y":30,"g":"u"},{"x":1.42,"y":5,"g":"u"},{"x":1.42,"y":14,"g":"u"},{"x":1.42,"y":16,"g":"u"},{"x":1.42,"y":25,"g":"u"},{"x":1.42,"y":33,"g":"u"},{"x":1.47,"y":8,"g":"u"},{"x":1.47,"y":12,"g":"u"},{"x":1.47,"y":20,"g":"u"},{"x":1.47,"y":37,"g":"u"},{"x":1.52,"y":2,"g":"u"},{"x":1.52,"y":6,"g":"u"},{"x":1.52,"y":18,"g":"u"},{"x":1.52,"y":22,"g":"u"},{"x":1.57,"y":10,"g":"u"},{"x":1.57,"y":14,"g":"u"},{"x":1.57,"y":30,"g":"u"},{"x":1.62,"y":5,"g":"u"},{"x":1.62,"y":8,"g":"u"},{"x":1.62,"y":20,"g":"u"},{"x":1.67,"y":12,"g":"u"},{"x":1.67,"y":25,"g":"u"},{"x":1.72,"y":4,"g":"u"},{"x":1.72,"y":15,"g":"u"},{"x":1.8,"y":6,"g":"u"},{"x":1.8,"y":2,"g":"u"},
{"x":1.96,"y":175,"g":"u"},{"x":3.35,"y":175,"g":"u"},{"x":3.15,"y":166.5,"g":"u"},{"x":1.86,"y":135.6,"g":"u"},{"x":1.75,"y":109,"g":"u"},{"x":1.93,"y":108,"g":"u"},{"x":2.0,"y":103,"g":"u"},{"x":2.5,"y":102,"g":"u"},{"x":1.41,"y":96.6,"g":"u"},{"x":1.51,"y":90,"g":"u"},{"x":3.83,"y":92,"g":"u"},{"x":3.45,"y":86.5,"g":"u"},{"x":1.03,"y":73,"g":"u"},{"x":1.28,"y":73,"g":"u"},{"x":1.62,"y":71,"g":"u"},{"x":1.2,"y":63,"g":"u"},{"x":1.6,"y":60,"g":"u"},{"x":1.75,"y":60,"g":"u"},{"x":1.15,"y":50,"g":"u"},{"x":1.23,"y":48,"g":"u"},{"x":3.78,"y":59,"g":"u"},{"x":2.2,"y":41,"g":"u"},{"x":4.33,"y":32,"g":"u"},{"x":1.75,"y":33,"g":"u"},{"x":2.6,"y":3.5,"g":"u"},{"x":3.5,"y":1,"g":"u"},{"x":3.62,"y":2.5,"g":"u"},{"x":3.7,"y":4,"g":"u"}
],
"sets": [
{"set":"Genes show significant change at 24h","pos":0},
{"set":"Genes show significant change at 48h","pos":1}
],
"counts": [
{"region":"24h only","n":356,"pos":-0.163},
{"region":"both","n":41,"pos":0.46},
{"region":"48h only","n":91,"pos":1.128}
]
},
"concat": [
 {
  "width": 258.8, "height": 221,
  "title": {"text": "A", "anchor": "start", "frame": "group", "offset": 0, "dx": -95.3, "dy": 47.9, "baseline": "alphabetic", "fontSize": 27, "fontWeight": "bold", "font": "Liberation Sans", "color": "#000"},
  "data": {"name": "a"},
  "mark": {"type": "point", "filled": true, "size": 38, "opacity": 1},
  "encoding": {
   "x": {"field": "x", "type": "quantitative", "scale": {"domain": [-6, 7.5], "nice": false, "zero": false}, "axis": {"values": [-6,-4,-2,0,2,4,6], "labelPadding": 24, "title": "log₂(fold change)", "titleX": 148.7, "titleY": 56.5, "titleBaseline": "alphabetic"}},
   "y": {"field": "y", "type": "quantitative", "scale": {"domain": [0, 258], "range": [221, 4], "nice": false}, "axis": {"values": [0,50,100,150,200,250], "labelPadding": 26.3, "title": "-lg(FDR)", "titleX": -61, "titleY": 108, "titleBaseline": "alphabetic"}},
   "color": {"field": "g", "type": "nominal", "scale": {"domain": ["n","d","u"], "range": ["#999999","#6B8CD4","#CC1F1F"]}, "legend": null}
  }
 },
 {
  "width": 260, "height": 221,
  "title": {"text": "B", "anchor": "start", "frame": "group", "offset": 0, "dx": -93, "dy": 47, "baseline": "alphabetic", "fontSize": 27, "fontWeight": "bold", "font": "Liberation Sans", "color": "#000"},
  "data": {"name": "b"},
  "mark": {"type": "point", "filled": true, "size": 38, "opacity": 1},
  "encoding": {
   "x": {"field": "x", "type": "quantitative", "scale": {"domain": [-4, 6], "nice": false, "zero": false}, "axis": {"values": [-4,-2,0,2,4,6], "labelPadding": 24, "title": "log₂(fold change)", "titleX": 146.7, "titleY": 56.5, "titleBaseline": "alphabetic"}},
   "y": {"field": "y", "type": "quantitative", "scale": {"domain": [0, 281], "nice": false}, "axis": {"values": [0,50,100,150,200,250], "labelPadding": 26.3, "title": "-lg(FDR)", "titleX": -58, "titleY": 119.5, "titleBaseline": "alphabetic"}},
   "color": {"field": "g", "type": "nominal", "scale": {"domain": ["n","d","u"], "range": ["#999999","#6B8CD4","#CC1F1F"]}, "legend": null}
  }
 },
 {
  "width": 300, "height": 120,
  "title": {"text": "C", "anchor": "start", "frame": "group", "offset": 0, "dx": -94.7, "dy": 30.5, "baseline": "alphabetic", "fontSize": 27, "fontWeight": "bold", "font": "Liberation Sans", "color": "#000"},
  "layer": [
   {
    "data": {"name": "sets"},
    "mark": {"type": "point", "shape": "M -1 0 A 1 0.4934 0 1 1 1 0 A 1 0.4934 0 1 1 -1 0 Z", "size": 58758, "filled": true, "opacity": 1, "fillOpacity": 0.72, "stroke": "#333333", "strokeWidth": 0.8, "strokeOpacity": 0.5},
    "encoding": {
     "x": {"field": "pos", "type": "quantitative", "scale": {"domain": [-0.4224, 1.5333], "nice": false, "zero": false}, "axis": null},
     "color": {"field": "set", "type": "nominal", "scale": {"domain": ["Genes show significant change at 24h","Genes show significant change at 48h"], "range": ["#4352B5","#719D38"]},
      "legend": {"title": null, "orient": "none", "legendX": 370.3, "legendY": 42.25, "symbolType": "square", "symbolSize": 88, "symbolStrokeWidth": 0, "symbolOpacity": 1, "labelFont": "Liberation Sans", "labelFontSize": 17.5, "labelLimit": 600, "labelOffset": 7.6, "rowPadding": 10.5, "padding": 0,
       "encode": {"symbols": {"update": {"fillOpacity": {"value": 1}, "opacity": {"value": 1}}}, "labels": {"update": {"fill": {"signal": "datum.value === 'Genes show significant change at 24h' ? '#4352B5' : '#6E9E3C'"}}}}}}
    }
   },
   {
    "data": {"name": "counts"},
    "mark": {"type": "text", "font": "Liberation Sans", "fontSize": 27, "fontWeight": "bold", "color": "#ffffff", "baseline": "middle", "align": "center"},
    "encoding": {
     "x": {"field": "pos", "type": "quantitative", "scale": {"domain": [-0.4224, 1.5333], "nice": false, "zero": false}, "axis": null},
     "text": {"field": "n", "type": "quantitative"}
    }
   }
  ]
 }
],
"columns": 2,
"align": "none",
"spacing": {"row": 127, "column": 143.2},
"bounds": "flush",
"resolve": {"scale": {"color": "independent"}, "legend": {"color": "independent"}}
}
